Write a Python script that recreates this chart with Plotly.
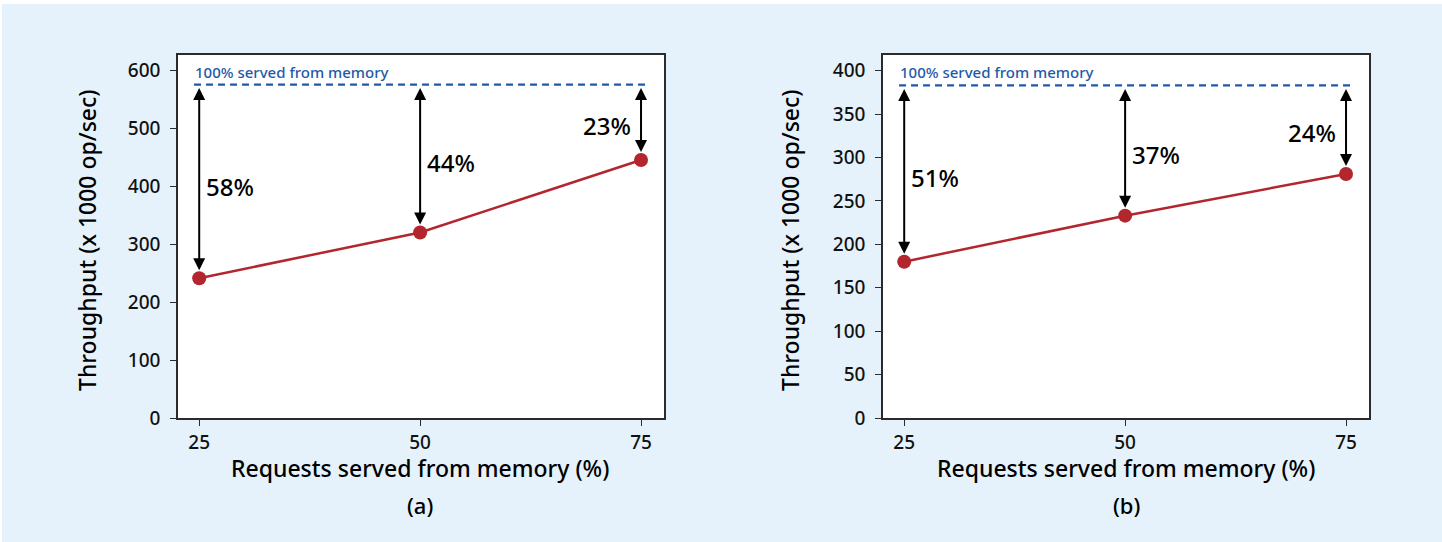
import plotly.graph_objects as go

# ---- data ----
pct_memory = [25, 50, 75]
throughput_a = [241, 320, 445]
throughput_b = [180, 233, 281]
full_memory_a = 575
full_memory_b = 383
gap_labels_a = ["58%", "44%", "23%"]
gap_labels_b = ["51%", "37%", "24%"]
gap_label_y_a = [400, 441, 505]
gap_label_y_b = [277, 303, 329]
yticks_a = [0, 100, 200, 300, 400, 500, 600]
yticks_b = [0, 50, 100, 150, 200, 250, 300, 350, 400]
xticks = [25, 50, 75]

RED = "#b3262d"
BLUE = "#1f5aa8"
BG = "#e6f2fb"
FONT = "Noto Sans"
WEIGHT = 500

OX, OY = 2, 4          # page offset of the figure
W, H = 1440, 538

def px_x(p):
    return (p - OX) / W

def px_y(p):
    return 1 - (p - OY) / H

fig = go.Figure()

fig.add_trace(go.Scatter(x=pct_memory, y=throughput_a, mode="lines+markers",
                         line=dict(color=RED, width=2.5),
                         marker=dict(color=RED, size=14),
                         xaxis="x", yaxis="y", showlegend=False, hoverinfo="skip"))
fig.add_trace(go.Scatter(x=pct_memory, y=throughput_b, mode="lines+markers",
                         line=dict(color=RED, width=2.5),
                         marker=dict(color=RED, size=14),
                         xaxis="x2", yaxis="y2", showlegend=False, hoverinfo="skip"))

ydom = [px_y(418), px_y(55)]
axis_common = dict(showline=True, linecolor="#2b2b2b", linewidth=1.5, mirror=True,
                   ticks="outside", ticklen=6, tickwidth=1.3, tickcolor="#2b2b2b",
                   showgrid=False, zeroline=False, automargin=False,
                   tickfont=dict(family=FONT, size=19, color="#111", weight=WEIGHT))

fig.update_layout(
    width=W, height=H,
    paper_bgcolor=BG, plot_bgcolor="white",
    margin=dict(l=0, r=0, t=0, b=0),
    xaxis=dict(domain=[px_x(178), px_x(664)], range=[22.6, 77.6], tickvals=xticks,
               anchor="y", **axis_common),
    yaxis=dict(domain=ydom, range=[0, 626], tickvals=yticks_a, anchor="x",
               ticklabelstandoff=6, **axis_common),
    xaxis2=dict(domain=[px_x(883), px_x(1369)], range=[22.6, 77.6], tickvals=xticks,
                anchor="y2", **axis_common),
    yaxis2=dict(domain=ydom, range=[0, 418], tickvals=yticks_b, anchor="x2",
                ticklabelstandoff=6, **axis_common),
)

annotations = []
shapes = []
panels = [
    ("x", "y", throughput_a, full_memory_a, gap_labels_a, gap_label_y_a, 420, 87, "(a)"),
    ("x2", "y2", throughput_b, full_memory_b, gap_labels_b, gap_label_y_b, 1126, 790, "(b)"),
]
for xa, ya, vals, full, labels, label_y, cx, ytx, tag in panels:
    shapes.append(dict(type="line", xref=f"{xa} domain", yref=ya, x0=0.033, x1=0.965,
                       y0=full, y1=full, line=dict(color=BLUE, width=2.2, dash="7px,5px")))
    annotations.append(dict(text="100% served from memory", xref=f"{xa} domain", yref=ya,
                            x=0.031, y=full, xanchor="left", yanchor="bottom", yshift=1,
                            showarrow=False,
                            font=dict(family=FONT, size=15, color=BLUE, weight=WEIGHT)))
    for i, (xv, v) in enumerate(zip(pct_memory, vals)):
        annotations.append(dict(x=xv, y=v, xref=xa, yref=ya, ax=xv, ay=full,
                                axref=xa, ayref=ya, text="", showarrow=True,
                                arrowhead=2, startarrowhead=2, arrowside="end+start",
                                arrowsize=1.2, startarrowsize=1.2, arrowwidth=2,
                                arrowcolor="black", standoff=8, startstandoff=2))
        right = i == len(pct_memory) - 1
        annotations.append(dict(x=xv, y=label_y[i], xref=xa, yref=ya, text=labels[i],
                                showarrow=False, xanchor="right" if right else "left",
                                yanchor="middle",
                                xshift=-8 if right else 5,
                                font=dict(family=FONT, size=24, color="black", weight=WEIGHT)))
    annotations.append(dict(text="Requests served from memory (%)", xref="paper", yref="paper",
                            x=px_x(cx), y=px_y(468), xanchor="center", yanchor="middle",
                            showarrow=False,
                            font=dict(family=FONT, size=23, color="black", weight=WEIGHT)))
    annotations.append(dict(text=tag, xref="paper", yref="paper",
                            x=px_x(cx), y=px_y(505), xanchor="center", yanchor="middle",
                            showarrow=False,
                            font=dict(family=FONT, size=22, color="black", weight=WEIGHT)))
    annotations.append(dict(text="Throughput (x 1000 op/sec)", xref="paper", yref="paper",
                            x=px_x(ytx), y=px_y(240), xanchor="center", yanchor="middle",
                            showarrow=False, textangle=-90,
                            font=dict(family=FONT, size=23, color="black", weight=WEIGHT)))

fig.update_layout(annotations=annotations, shapes=shapes)
fig.write_html("out.html",
               post_script="document.body.style.margin='4px 0 0 2px';")
